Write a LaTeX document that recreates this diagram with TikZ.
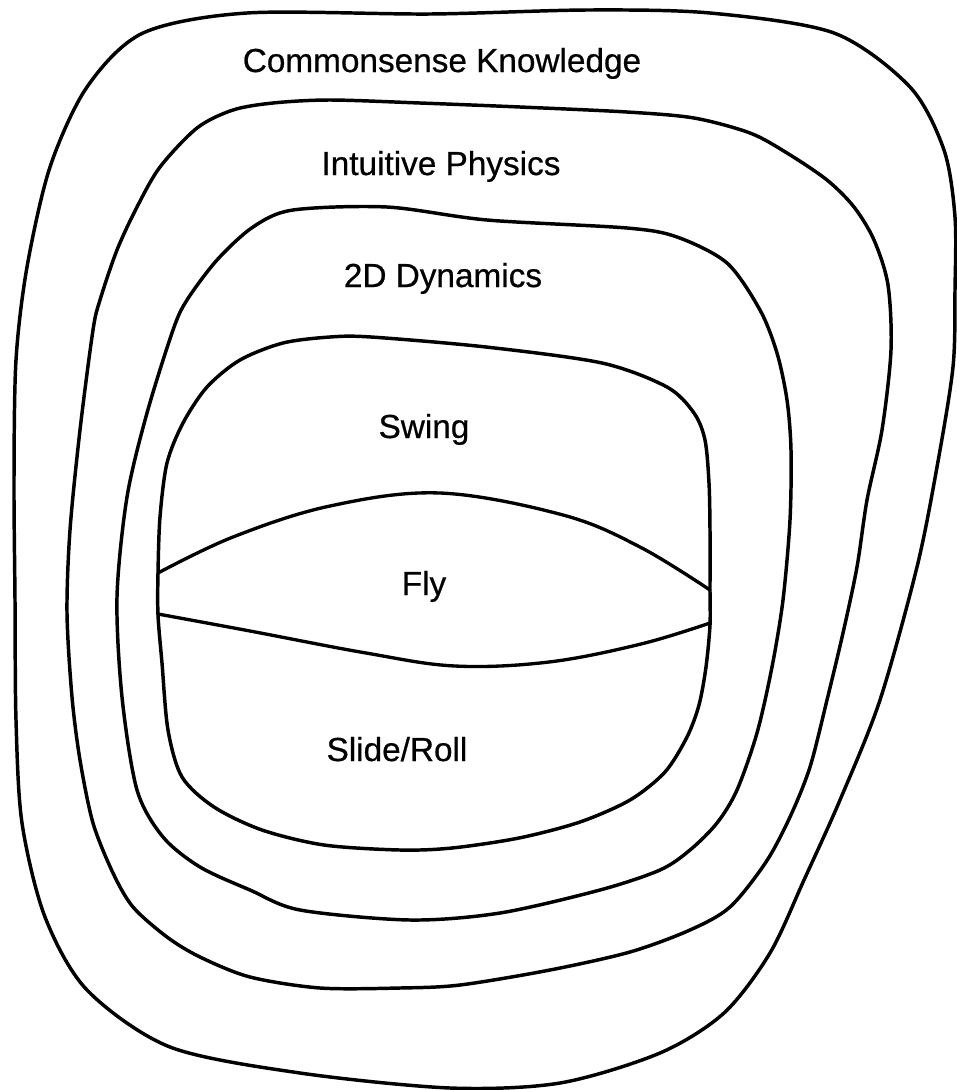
\documentclass[tikz,border=0pt]{standalone}
\usepackage{fontspec}
\setmainfont{Liberation Sans}[FakeBold=0.6]
\usepackage{tikz}

\begin{document}
\begin{tikzpicture}[
    x=0.75pt, y=-0.75pt,
    region/.style={draw, line width=2.6pt, line join=round},
    divider/.style={draw, line width=2.5pt, line cap=round},
    ringtext/.style={anchor=base, inner sep=0pt, font=\fontsize{25}{30}\selectfont, text=black}
]
\useasboundingbox (0,0) rectangle (957,1090);

\node[ringtext] (common) at (442,72) {Commonsense Knowledge};
\node[ringtext] (intuitive) at (441,175) {Intuitive Physics};
\node[ringtext] (dynamics) at (443,287) {2D Dynamics};
\node[ringtext] (swing) at (424,438) {Swing};
\node[ringtext] (fly) at (424,595) {Fly};
\node[ringtext] (slide) at (397,761) {Slide/Roll};

% outer ring
\draw[region] plot[smooth cycle, tension=0.5] coordinates {
  (143,33) (247,13) (430,14) (587,10) (710,13) (834,33) (910,87) (944,150)
  (955,217) (955,290) (953,367) (937,467) (917,567) (880,700) (840,800)
  (804,880) (770,953) (724,1013) (660,1053) (560,1083) (450,1088) (300,1073)
  (170,1047) (87,990) (45,917) (22,823) (16,720) (15,600) (14,480) (16,360)
  (27,267) (50,167) (87,87)};

\draw[region] plot[smooth cycle, tension=0.5] coordinates {
  (160,167) (197,128) (233,110) (273,103) (330,100) (420,103) (520,107)
  (627,112) (694,118) (750,133) (787,153) (827,180) (854,207) (874,240)
  (888,285) (891,350) (882,430) (867,500) (857,567) (843,633)
  (827,700) (810,767) (790,817) (766,862) (730,907) (690,930) (630,952)
  (550,970) (460,985) (400,988) (320,988) (250,977) (200,957) (167,937)
  (133,907) (113,873) (93,823) (80,760) (72,697) (67,613) (70,530) (80,430)
  (93,330) (100,300) (117,250) (137,207)};

\draw[region] plot[smooth cycle, tension=0.5] coordinates {
  (173,330) (187,300) (217,260) (253,227) (293,210) (387,207) (487,220)
  (627,228) (677,237) (727,263) (760,310) (777,353) (787,400) (791,450)
  (790,520) (783,600) (772,667) (757,733) (737,790) (717,823) (690,850)
  (660,870) (600,890) (500,913) (410,920) (300,910) (250,890) (200,867)
  (163,837) (137,790) (122,697) (117,597) (127,497) (147,413)};

% swing / fly / slide box
\draw[region] plot[smooth cycle, tension=0.5] coordinates {
  (183,423) (207,387) (240,360) (283,343) (330,337) (371,337) (486,347)
  (602,363) (667,387) (694,413) (705,440) (709,483) (710,530) (710,590)
  (710,625) (706,667) (699,705) (687,737) (665,772) (630,800) (580,822)
  (519,838) (452,848) (400,850) (324,845) (262,830) (214,807) (182,777)
  (168,730) (162,663) (158,615) (158,573) (160,517) (167,463)};

\draw[divider] plot[smooth, tension=0.6] coordinates {
  (158,573) (233,537) (330,506) (440,493) (563,515) (640,547) (710,590)};
\draw[divider] plot[smooth, tension=0.6] coordinates {
  (158,614) (250,631) (366,653) (455,666) (549,662) (641,644) (710,623)};
\end{tikzpicture}
\end{document}
